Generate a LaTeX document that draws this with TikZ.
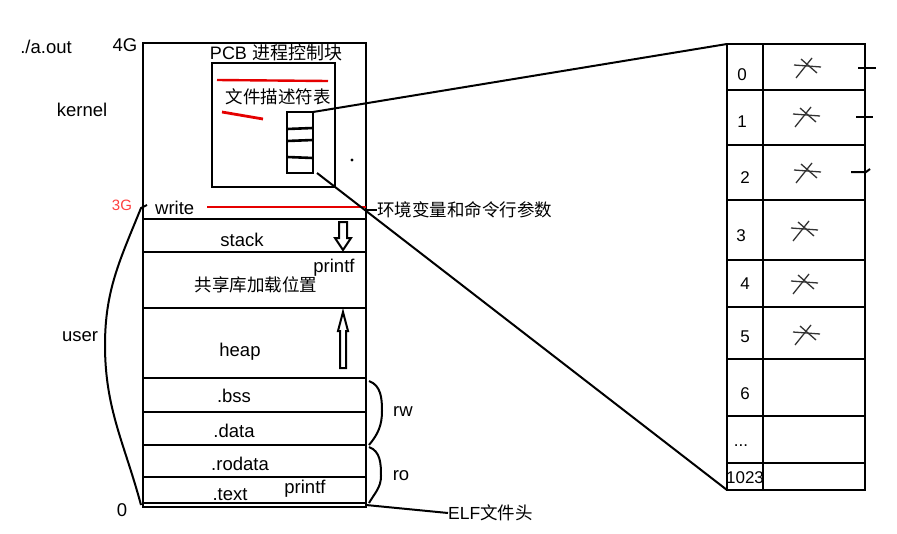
\documentclass[tikz,border=0pt]{standalone}
\usepackage{fontspec}
\setmainfont{Liberation Sans}
\newfontfamily\cjk{Noto Sans CJK SC}
\begin{document}
\begin{tikzpicture}[x=1pt,y=-1pt,
  ln/.style={line width=2.6pt,black},
  thin ln/.style={line width=2pt,black},
  redln/.style={line width=2.4pt,red!90!black},
  lbl/.style={inner sep=0pt,font=\fontsize{18.5}{20}\selectfont},
  zh/.style={inner sep=0pt,font=\fontsize{17.5}{20}\selectfont\cjk},
  crs/.style={line width=1.3pt,black!80}]
\useasboundingbox[fill=white] (0,0) rectangle (897,533);

% ---- main memory box
\coordinate (mTL) at (143,43);
\coordinate (mBR) at (366,507);
\draw[ln] (mTL) rectangle (mBR);
\foreach \yy in {219,252,308,378,412,445,477,503}
  \draw[ln] (143,\yy) -- (366,\yy);

% ---- PCB box
\coordinate (pTL) at (212,63);
\coordinate (pBR) at (335,187);
\draw[ln] (pTL) rectangle (pBR);
\draw[redln] (217,80) -- (328,81);
\draw[redln,line width=2.8pt] (222,112) -- (263,119);

% ---- small fd table
\coordinate (fTR) at (313,112);
\coordinate (fBR) at (317,173);
\draw[ln] (287,112) rectangle (313,173);
\draw[ln] (287,129) -- (313,128);
\draw[ln] (287,141) -- (313,140);
\draw[ln] (287,157) -- (313,158);
\fill (352,160) circle (1.6);

% ---- red write line
\draw[redln] (207,207) -- (366,207);

% ---- right table
\coordinate (rTL) at (727,44);
\coordinate (rBL) at (727,490);
\draw[ln] (727,44) rectangle (865,490);
\draw[ln] (763,44) -- (763,490);
\foreach \yy in {90,145,200,260,307,359,416,463}
  \draw[ln] (727,\yy) -- (865,\yy);

% row labels
\node[lbl,font=\fontsize{17}{20}\selectfont] (r0) at (742,75) {0};
\node[lbl,font=\fontsize{17}{20}\selectfont] (r1) at (742,122) {1};
\node[lbl,font=\fontsize{17}{20}\selectfont] (r2) at (745,178) {2};
\node[lbl,font=\fontsize{17}{20}\selectfont] (r3) at (741,236) {3};
\node[lbl,font=\fontsize{17}{20}\selectfont] (r4) at (745,284) {4};
\node[lbl,font=\fontsize{17}{20}\selectfont] (r5) at (745,337) {5};
\node[lbl,font=\fontsize{17}{20}\selectfont] (r6) at (745,394) {6};
\node[lbl,font=\fontsize{17}{20}\selectfont] (rd) at (741,446) {...};
\node[lbl,font=\fontsize{17}{20}\selectfont] (rl) at (745,478) {1023};

% crosses
\foreach \cx/\cy in {806/67,805/116,806/172,803/230,803/283,805/334}{
  \draw[crs] (\cx-10,\cy+11) -- (\cx+6,\cy-9);
  \draw[crs] (\cx-12,\cy-2) -- (\cx+15,\cy);
  \draw[crs] (\cx-5,\cy-8) -- (\cx+11,\cy+6);
}
% right ticks
\draw[thin ln] (858,68) -- (876,68);
\draw[thin ln] (856,117) -- (873,117);
\draw[thin ln] (851,172) -- (866,172) -- (870,169);

% ---- connectors
\draw[thin ln] (fTR) -- (rTL);
\draw[thin ln] (fBR) -- (rBL);

% ---- arrows (hollow)
\draw[thin ln] (339,222) -- (347,222) -- (347,238) -- (351,238) -- (343,250) -- (335,238) -- (339,238) -- cycle;
\draw[thin ln] (343,312) -- (348,331) -- (346,331) -- (346,368) -- (340,368) -- (340,331) -- (338,331) -- cycle;

% ---- braces
\draw[thin ln] (369,381) to[out=-20,in=90] (382,411) to[out=-90,in=50] (369,445);
\draw[thin ln] (369,447) to[out=-20,in=90] (381,476) to[out=-90,in=60] (369,503);

% ---- user curve
\draw[thin ln] (147,205) -- (141,208) to[out=-112,in=90] (105,345) to[out=-90,in=105] (141,505);

% ---- labels
\node[lbl] (aout) at (46,47) {./a.out};
\node[lbl] (g4) at (125,45) {4G};
\node[lbl] (kern) at (82,110) {kernel};
\node[lbl] (usr) at (80,337) {user};
\node[lbl] (zero) at (122,510) {0};
\node[inner sep=0pt,font=\fontsize{15}{16}\selectfont,text=red!75] (g3) at (122,205) {3G};
\node[lbl,anchor=west] (wr) at (155,208) {write};
\node[inner sep=0pt,font=\fontsize{18}{20}\selectfont] (pcb) at (276,53) {PCB {\cjk 进程控制块}};
\node[zh] (fdt) at (278,97) {文件描述符表};
\node[lbl] (stk) at (242,240) {stack};
\node[lbl] (pf1) at (334,268) {printf};
\node[zh] (shl) at (256,285) {共享库加载位置};
\node[lbl] (hp) at (240,352) {heap};
\node[lbl] (bss) at (234,396) {.bss};
\node[lbl] (dat) at (234,431) {.data};
\node[lbl] (rod) at (240,464) {.rodata};
\node[lbl] (txt) at (230,495) {.text};
\node[lbl] (pf2) at (305,489) {printf};
\node[lbl] (rw) at (403,412) {rw};
\node[lbl] (ro) at (401,476) {ro};
\node[inner sep=0pt,font=\fontsize{17.5}{20}\selectfont,anchor=west] (elf) at (448,513) {ELF{\cjk 文件头}};
\node[zh,anchor=west] (env) at (377,210) {环境变量和命令行参数};

\draw[thin ln] (366,210) -- (env.west);
\draw[thin ln] (366,505) -- (elf.west);
\end{tikzpicture}
\end{document}
